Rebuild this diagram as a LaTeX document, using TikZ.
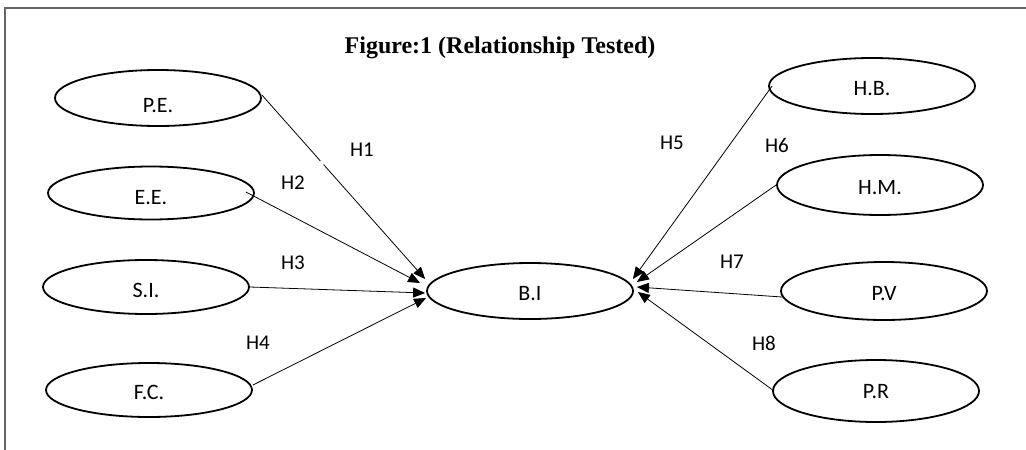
\documentclass[tikz,border=0pt]{standalone}
\usepackage{fontspec}
\setmainfont{Carlito}
\newfontfamily\titlefont{Liberation Serif}
\usetikzlibrary{arrows.meta,shapes.geometric}
\begin{document}
\begin{tikzpicture}[x=1pt,y=-1pt,
  construct/.style={draw=black,line width=1.8pt,ellipse,inner sep=0pt,text depth=0pt,
    minimum width=206pt,minimum height=56pt,font=\fontsize{22}{26}\selectfont},
  hyp/.style={font=\fontsize{21}{24}\selectfont,inner sep=0pt},
  path/.style={draw=black,line width=0.8pt,-{Triangle[length=12pt,width=10pt]}},
  frameline/.style={draw=black!60,line width=1.6pt}]
\useasboundingbox (0,0) rectangle (1026,450);
\coordinate (ftop) at (1026,8);
\coordinate (fcorner) at (5,8);
\coordinate (fbot) at (5,450);
\draw[frameline] (ftop) -- (fcorner) -- (fbot);
\node[font=\titlefont\bfseries\fontsize{24}{28}\selectfont,anchor=base,inner sep=0pt] (title) at (500,53) {Figure:1 (Relationship Tested)};
% left constructs
\node[construct,text height=28pt] (PE) at (158,98) {P.E.};
\node[construct,minimum height=53pt,text height=22pt] (EE) at (151,193) {E.E.};
\node[construct,minimum height=54pt,text height=20pt] (SI) at (146,287) {S.I.};
\node[construct,minimum height=54pt,text height=19pt] (FC) at (149,390) {F.C.};
% centre
\node[construct,text height=18pt] (BI) at (530,291) {B.I};
% right constructs
\node[construct,text height=18pt] (HB) at (872,86) {H.B.};
\node[construct,minimum height=60pt,text height=18pt] (HM) at (880,185) {H.M.};
\node[construct,minimum height=58pt,text height=19pt] (PV) at (884,291) {P.V};
\node[construct,minimum height=62pt,text height=14pt] (PR) at (876,391) {P.R};
% connectors
\draw[path,dash pattern=on 88pt off 5pt on 400pt] ([yshift=3pt]PE.east) -- ([xshift=-1pt,yshift=12pt]BI.west);
\draw[path] ([xshift=-9pt,yshift=1pt]EE.east) -- ([xshift=-6pt,yshift=8pt]BI.west);
\draw[path] ([xshift=0pt]SI.east) -- ([xshift=-1pt,yshift=-2pt]BI.west);
\draw[path] ([yshift=5pt]FC.east) -- ([xshift=0pt,yshift=-7pt]BI.west);
\draw[path] ([xshift=4pt]HB.west) -- ([xshift=-1pt,yshift=12pt]BI.east);
\draw[path] (HM.west) -- ([xshift=3pt,yshift=9pt]BI.east);
\draw[path] ([xshift=2pt,yshift=-6pt]PV.west) -- ([xshift=3pt,yshift=4pt]BI.east);
\draw[path] ([xshift=2pt]PR.west) -- ([xshift=4pt,yshift=-1pt]BI.east);
% labels
\node[hyp] (h1) at (362,150) {H1};
\node[hyp] (h2) at (293,183) {H2};
\node[hyp] (h3) at (293,263) {H3};
\node[hyp] (h4) at (258,343) {H4};
\node[hyp] (h5) at (672,143) {H5};
\node[hyp] (h6) at (777,145) {H6};
\node[hyp] (h7) at (732,262) {H7};
\node[hyp] (h8) at (764,343) {H8};
\end{tikzpicture}
\end{document}
